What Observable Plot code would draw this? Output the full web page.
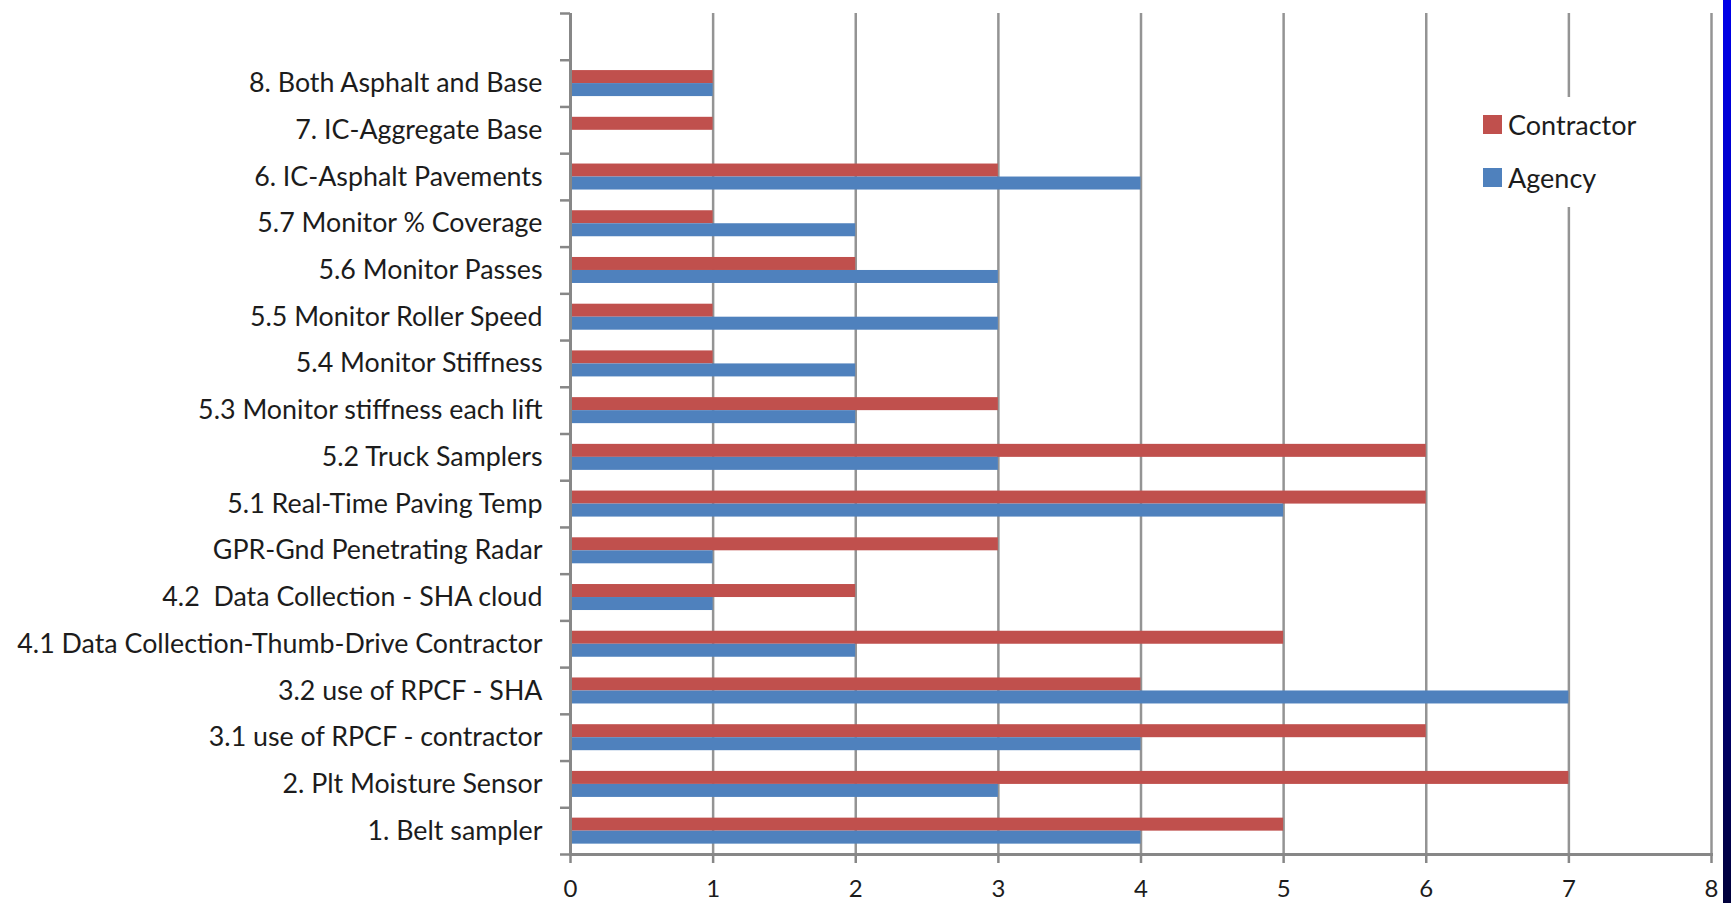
<!DOCTYPE html>
<html><head><meta charset="utf-8">
<script src="https://cdn.jsdelivr.net/npm/d3@7"></script>
<script src="https://cdn.jsdelivr.net/npm/@observablehq/plot@0.6"></script>
<style>
body{margin:0;background:#fff;overflow:hidden}
#wrap{position:relative;width:1731px;height:903px}
#wrap svg text{white-space:pre}
#legend{position:absolute;left:1474px;top:97px;width:200px;height:110px;background:#fff;font-family:Lato,sans-serif;font-size:27px;color:#1c1c1c}
.item{position:absolute;left:9px;height:19px;line-height:19px;display:flex;align-items:center;white-space:nowrap}
.sw{width:19px;height:19px;margin-right:6px;flex:none}
#strip{position:absolute;left:1723px;top:0;width:8px;height:903px;background:linear-gradient(#0000e8,#0000a8 50%,#00003c)}
</style></head><body><div id="wrap"></div>
<script>
const categories = ["1. Belt sampler", "2. Plt Moisture Sensor", "3.1 use of RPCF - contractor", "3.2 use of RPCF - SHA", "4.1 Data Collection-Thumb-Drive Contractor", "4.2  Data Collection - SHA cloud", "GPR-Gnd Penetrating Radar", "5.1 Real-Time Paving Temp", "5.2 Truck Samplers", "5.3 Monitor stiffness each lift", "5.4 Monitor Stiffness", "5.5 Monitor Roller Speed", "5.6 Monitor Passes", "5.7 Monitor % Coverage", "6. IC-Asphalt Pavements", "7. IC-Aggregate Base", "8. Both Asphalt and Base"];
const contractor = [5, 7, 6, 4, 5, 2, 3, 6, 6, 3, 1, 1, 2, 1, 3, 1, 1];
const agency     = [4, 3, 4, 7, 2, 1, 1, 5, 3, 2, 2, 3, 3, 2, 4, 0, 1];
const xTicks = [0, 1, 2, 3, 4, 5, 6, 7, 8];
const seriesNames = ["Contractor", "Agency"];
const seriesColors = ["#C0504D", "#4F81BD"];

const W = 1731, H = 903, mt = 13, mb = 49, ml = 570, mr = 20;
const domainY = [" ", ...categories.slice().reverse()];
const step = (H - mt - mb) / domainY.length;
const padIn = 0.4435;
const bw = step * (1 - padIn);
const rows = categories.flatMap((c, i) => [
  {cat: c, series: seriesNames[0], value: contractor[i]},
  {cat: c, series: seriesNames[1], value: agency[i]}
]);
const axisColor = "#878787";

const chart = Plot.plot({
  width: W, height: H,
  marginTop: mt, marginBottom: mb, marginLeft: ml, marginRight: mr,
  style: {fontFamily: "Lato, sans-serif", fontSize: "27px", color: "#1c1c1c", background: "transparent"},
  x: {domain: [0, 8], label: null},
  y: {domain: domainY, paddingInner: padIn, paddingOuter: padIn / 2, round: false, label: null},
  color: {domain: seriesNames, range: seriesColors},
  marks: [
    Plot.gridX(xTicks.slice(1), {stroke: "#949494", strokeOpacity: 1, strokeWidth: 2.5}),
    Plot.barX(rows.filter(d => d.series === seriesNames[0]), {x: "value", y: "cat", fill: "series", insetBottom: bw / 2}),
    Plot.barX(rows.filter(d => d.series === seriesNames[1]), {x: "value", y: "cat", fill: "series", insetTop: bw / 2}),
    Plot.ruleX([0], {stroke: axisColor, strokeWidth: 3}),
    Plot.frame({anchor: "bottom", stroke: axisColor, strokeWidth: 3}),
    Plot.axisX({ticks: xTicks, tickFormat: "d", tickSize: 9, tickPadding: 16, stroke: axisColor, strokeWidth: 2.5, fill: "#1c1c1c", fontSize: 24}),
    Plot.axisY({text: null, tickSize: 10, dy: -step / 2, stroke: axisColor, strokeWidth: 2.5}),
    Plot.axisY([domainY[domainY.length - 1]], {text: null, tickSize: 10, dy: step / 2, stroke: axisColor, strokeWidth: 2.5}),
    Plot.axisY(categories, {tickSize: 0, tickPadding: 28, fill: "#1c1c1c", fontSize: 26.8})
  ]
});
const wrap = document.getElementById("wrap");
wrap.appendChild(chart);

const legend = document.createElement("div");
legend.id = "legend";
seriesNames.forEach((name, i) => {
  const item = document.createElement("div");
  item.className = "item";
  item.style.top = (18 + i * 53) + "px";
  const sw = document.createElement("span");
  sw.className = "sw";
  sw.style.background = seriesColors[i];
  item.appendChild(sw);
  item.appendChild(document.createTextNode(name));
  legend.appendChild(item);
});
wrap.appendChild(legend);
const strip = document.createElement("div");
strip.id = "strip";
wrap.appendChild(strip);
</script>
</body></html>
